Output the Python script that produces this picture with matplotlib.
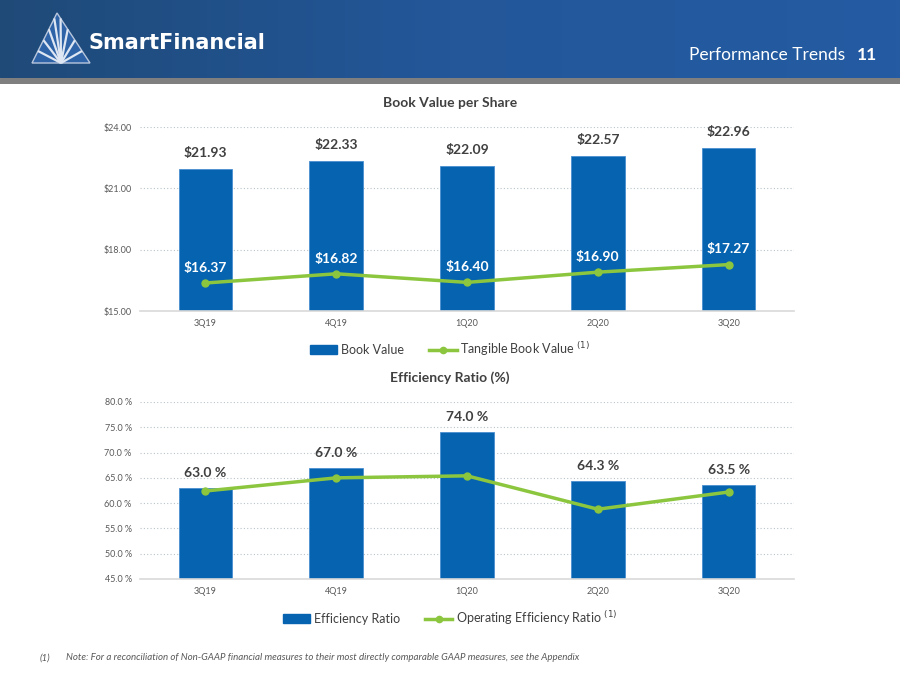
import numpy as np
import matplotlib
matplotlib.use("Agg")
import matplotlib.pyplot as plt
from matplotlib.patches import Polygon, Rectangle
from matplotlib.lines import Line2D
from matplotlib.colors import LinearSegmentedColormap

plt.rcParams['font.family'] = ['Lato', 'DejaVu Sans']

# -------------------------------
# DATA
# -------------------------------
quarters = ["3Q19", "4Q19", "1Q20", "2Q20", "3Q20"]
book_value = [21.93, 22.33, 22.09, 22.57, 22.96]
tangible_bv = [16.37, 16.82, 16.40, 16.90, 17.27]
eff_ratio = [63.0, 67.0, 74.0, 64.3, 63.5]
op_eff_ratio = [62.4, 65.0, 65.4, 58.8, 62.2]
bv_ticks = [15.0, 18.0, 21.0, 24.0]
eff_ticks = [45, 50, 55, 60, 65, 70, 75, 80]

BLUE = "#0563b0"
GREEN = "#8cc63e"
DARK = "#404040"
GRAY = "#595959"

fig = plt.figure(figsize=(9, 6.75), dpi=100)
W, H = 900, 675

def fx(px):
    return px / W

def fy(py):
    return 1 - py / H

# -------------------------------
# header band (pixel coords inside)
# -------------------------------
hdr = fig.add_axes([0, fy(78), 1, 78 / H])
grad = np.linspace(0, 1, 256).reshape(1, -1)
cmap = LinearSegmentedColormap.from_list("hdr", ["#1f4a78", "#23579a", "#245ba2"])
hdr.imshow(grad, aspect="auto", cmap=cmap, extent=[0, 900, 78, 0])
hdr.set_xlim(0, 900)
hdr.set_ylim(78, 0)
hdr.axis("off")
# logo triangle with rays
tri = Polygon([[32, 63], [57, 13], [90, 63]], closed=True,
              facecolor="#2f63a8", edgecolor="#b8c6dc", lw=1)
hdr.add_patch(tri)
for t in np.linspace(0.12, 0.88, 8):
    if t < 0.5:
        ex, ey = 32 + (57 - 32) * (t / 0.5), 63 - 50 * (t / 0.5)
    else:
        ex, ey = 57 + (90 - 57) * ((t - 0.5) / 0.5), 13 + 50 * ((t - 0.5) / 0.5)
    hdr.plot([61, ex], [63, ey], color="#dde6f2", lw=1.6, solid_capstyle="butt")
hdr.text(88, 43, "SmartFinancial", color="white", fontsize=15,
         fontweight="bold", va="center", ha="left", family="DejaVu Sans")
hdr.text(845, 55, "Performance Trends", color="white", fontsize=12.5,
         va="center", ha="right")
hdr.text(877, 55, "11", color="white", fontsize=12.5, fontweight="bold",
         va="center", ha="right")

bar_ax = fig.add_axes([0, fy(84), 1, 6 / H])
bar_ax.add_patch(Rectangle((0, 0), 1, 1, color="#7f7f7f"))
bar_ax.axis("off")

x = np.arange(len(quarters))

def style_axes(ax):
    for s in ["top", "right", "left"]:
        ax.spines[s].set_visible(False)
    ax.spines["bottom"].set_color("#d9d9d9")
    ax.spines["bottom"].set_linewidth(1.2)
    ax.tick_params(axis="both", length=0, labelsize=6.5, labelcolor=GRAY, pad=6)
    ax.grid(axis="y", linestyle=(0, (1, 2)), color="#b8c4cc", lw=0.8)
    ax.set_axisbelow(True)
    ax.set_xlim(-0.5, len(quarters) - 0.5)
    ax.set_xticks(x)
    ax.set_xticklabels(quarters)

# -------------------------------
# Book value chart
# -------------------------------
ax1 = fig.add_axes([fx(140), fy(311), fx(654), (311 - 127) / H])
ax1.bar(x, book_value, width=0.41, color=BLUE, edgecolor="#4a8fd0", lw=0.6, zorder=2)
ax1.plot(x, tangible_bv, color=GREEN, lw=2.5, marker="o", ms=5, zorder=3)
ax1.set_ylim(15, 24)
ax1.set_yticks(bv_ticks)
ax1.set_yticklabels([f"${t:.2f}" for t in bv_ticks])
style_axes(ax1)
for xi, v in zip(x, book_value):
    ax1.text(xi, v + 0.5, f"${v:.2f}", ha="center", va="bottom", fontsize=10,
             fontweight="bold", color=DARK)
for xi, v in zip(x, tangible_bv):
    ax1.text(xi, v + 0.45, f"${v:.2f}", ha="center", va="bottom", fontsize=10,
             fontweight="bold", color="white", zorder=4)
fig.text(0.5, fy(103), "Book Value per Share", ha="center", va="center",
         fontsize=10, fontweight="bold", color=DARK)

h1 = [Rectangle((0, 0), 1, 1, color=BLUE),
      Line2D([], [], color=GREEN, lw=2.5, marker="o", ms=4.5)]
fig.legend(h1, ["Book Value", "Tangible Book Value $^{(1)}$"], loc="center",
           bbox_to_anchor=(0.5, fy(349)), ncol=2, frameon=False, fontsize=9,
           labelcolor=DARK, handlelength=2.2, handletextpad=0.3, columnspacing=2.0)

# -------------------------------
# Efficiency ratio chart
# -------------------------------
ax2 = fig.add_axes([fx(140), fy(579), fx(654), (579 - 402) / H])
ax2.bar(x, eff_ratio, width=0.41, color=BLUE, edgecolor="#4a8fd0", lw=0.6, zorder=2)
ax2.plot(x, op_eff_ratio, color=GREEN, lw=2.5, marker="o", ms=5, zorder=3)
ax2.set_ylim(45, 80)
ax2.set_yticks(eff_ticks)
ax2.set_yticklabels([f"{t:.1f} %" for t in eff_ticks])
style_axes(ax2)
for xi, v in zip(x, eff_ratio):
    ax2.text(xi, v + 1.8, f"{v:.1f} %", ha="center", va="bottom", fontsize=10,
             fontweight="bold", color=DARK)
fig.text(0.5, fy(378), "Efficiency Ratio (%)", ha="center", va="center",
         fontsize=10, fontweight="bold", color=DARK)

h2 = [Rectangle((0, 0), 1, 1, color=BLUE),
      Line2D([], [], color=GREEN, lw=2.5, marker="o", ms=4.5)]
fig.legend(h2, ["Efficiency Ratio", "Operating Efficiency Ratio $^{(1)}$"], loc="center",
           bbox_to_anchor=(0.5, fy(618)), ncol=2, frameon=False, fontsize=9,
           labelcolor=DARK, handlelength=2.2, handletextpad=0.3, columnspacing=2.0)

# footnote
fig.text(fx(40), fy(658), "(1)", fontsize=7, style="italic", color=GRAY, va="center")
fig.text(fx(66), fy(658),
         "Note: For a reconciliation of Non-GAAP financial measures to their most directly comparable GAAP measures, see the Appendix",
         fontsize=7, style="italic", color=GRAY, va="center")

fig.savefig("out.png", dpi=100)
